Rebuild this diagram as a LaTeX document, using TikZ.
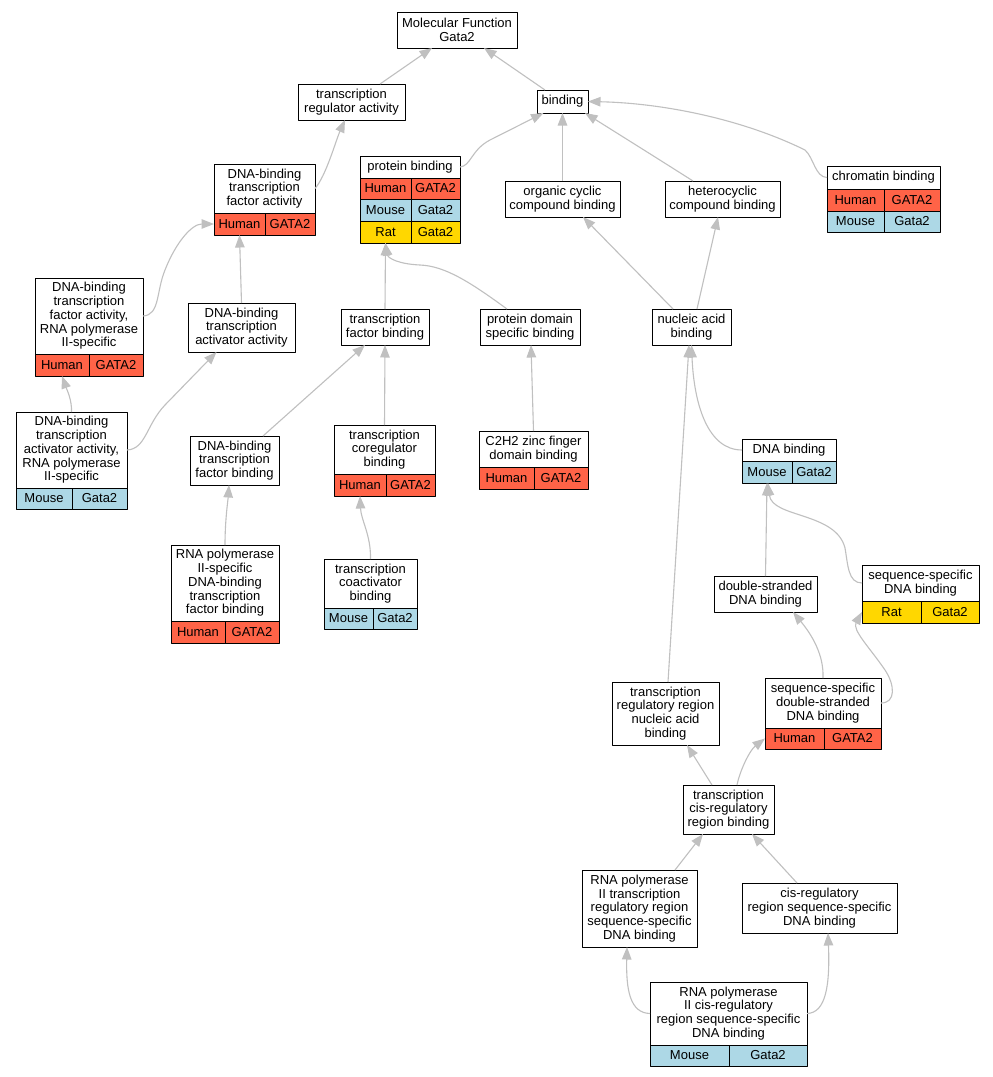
\documentclass[tikz,border=0pt]{standalone}
\usepackage{fontspec}
\setmainfont{Liberation Sans}
\usetikzlibrary{arrows.meta}
\definecolor{human}{HTML}{FF6347}
\definecolor{mouse}{HTML}{ADD8E6}
\definecolor{rat}{HTML}{FFD700}
\definecolor{linkgrey}{HTML}{C0C0C0}
% box of a term: name, x1, y1, x2, y2, text
\newcommand{\term}[6]{\node[term, minimum width={#4-#2}, minimum height={#5-#3}] (#1) at ({(#2+#4)/2},{(#3+#5)/2}) {#6};}
% one species row: name, x1, xm, x2, y1, y2, colour, species, gene
\newcommand{\orthorow}[9]{%
  \node[cell, fill=#7, minimum width={#3-#2}, minimum height={#6-#5}] (#1) at ({(#2+#3)/2},{(#5+#6)/2}) {#8};
  \node[cell, fill=#7, minimum width={#4-#3}, minimum height={#6-#5}] (#1g) at ({(#3+#4)/2},{(#5+#6)/2}) {#9};}
\begin{document}
\begin{tikzpicture}[x=1pt, y=-1pt, font=\fontsize{13}{13.8}\selectfont, line join=round,
	term/.style={draw=black, fill=white, line width=1pt, inner sep=0pt, outer sep=0pt, align=center},
	cell/.style={draw=black, line width=1pt, inner sep=0pt, outer sep=0pt},
	link/.style={draw=linkgrey, line width=1.1pt, -{Triangle[length=12.5pt, width=9.5pt]}}]
	\useasboundingbox[fill=white] (0,0) rectangle (993,1077);
	% terms
	\term{mf}{397}{12}{517}{48}{Molecular Function\\Gata2}
	\term{tra}{298}{84}{405}{120}{transcription\\regulator activity}
	\term{bind}{537}{90}{588}{113}{binding}
	\term{dbtfa}{214}{164}{315}{213}{DNA-binding\\transcription\\factor activity}
	\orthorow{dbtfah}{214}{265}{315}{213}{235}{human}{Human}{GATA2}
	\term{pb}{360}{156}{460}{178}{protein binding}
	\orthorow{pbh}{360}{411}{460}{178}{199}{human}{Human}{GATA2}
	\orthorow{pbm}{360}{411}{460}{199}{221}{mouse}{Mouse}{Gata2}
	\orthorow{pbr}{360}{411}{460}{221}{243}{rat}{Rat}{Gata2}
	\term{occb}{505}{181}{620}{217}{organic cyclic\\compound binding}
	\term{hccb}{665}{181}{780}{217}{heterocyclic\\compound binding}
	\term{chb}{827}{166}{940}{189}{chromatin binding}
	\orthorow{chbh}{827}{884}{940}{189}{211}{human}{Human}{GATA2}
	\orthorow{chbm}{827}{884}{940}{211}{232}{mouse}{Mouse}{Gata2}
	\term{dbtfa2}{35}{278}{143}{354}{DNA-binding\\transcription\\factor activity,\\RNA polymerase\\II-specific}
	\orthorow{dbtfa2h}{35}{89}{143}{354}{376}{human}{Human}{GATA2}
	\term{dbtaa}{188}{303}{295}{352}{DNA-binding\\transcription\\activator activity}
	\term{tfb}{341}{309}{429}{345}{transcription\\factor binding}
	\term{pdsb}{480}{309}{580}{345}{protein domain\\specific binding}
	\term{nab}{652}{309}{731}{345}{nucleic acid\\binding}
	\term{dbtaa2}{16}{412}{127}{488}{DNA-binding\\transcription\\activator activity,\\RNA polymerase\\II-specific}
	\orthorow{dbtaa2m}{16}{72}{127}{488}{509}{mouse}{Mouse}{Gata2}
	\term{dbtfb}{190}{436}{279}{485}{DNA-binding\\transcription\\factor binding}
	\term{tcb}{334}{425}{435}{474}{transcription\\coregulator\\binding}
	\orthorow{tcbh}{334}{386}{435}{474}{496}{human}{Human}{GATA2}
	\term{c2h2}{479}{431}{588}{467}{C2H2 zinc finger\\domain binding}
	\orthorow{c2h2h}{479}{534}{588}{467}{489}{human}{Human}{GATA2}
	\term{dnab}{742}{439}{836}{461}{DNA binding}
	\orthorow{dnabm}{742}{792}{836}{461}{483}{mouse}{Mouse}{Gata2}
	\term{p2dbtfb}{171}{545}{279}{621}{RNA polymerase\\II-specific\\DNA-binding\\transcription\\factor binding}
	\orthorow{p2dbtfbh}{171}{225}{279}{621}{643}{human}{Human}{GATA2}
	\term{tcab}{324}{559}{417}{608}{transcription\\coactivator\\binding}
	\orthorow{tcabm}{324}{373}{417}{608}{629}{mouse}{Mouse}{Gata2}
	\term{dsdb}{714}{576}{817}{612}{double-stranded\\DNA binding}
	\term{ssdb}{862}{565}{979}{601}{sequence-specific\\DNA binding}
	\orthorow{ssdbr}{862}{921}{979}{601}{623}{rat}{Rat}{Gata2}
	\term{trrnab}{612}{682}{719}{745}{transcription\\regulatory region\\nucleic acid\\binding}
	\term{ssdsdb}{765}{678}{881}{728}{sequence-specific\\double-stranded\\DNA binding}
	\orthorow{ssdsdbh}{765}{824}{881}{728}{749}{human}{Human}{GATA2}
	\term{tcrb}{683}{785}{774}{834}{transcription\\cis-regulatory\\region binding}
	\term{p2trr}{582}{870}{697}{947}{RNA polymerase\\II transcription\\regulatory region\\sequence-specific\\DNA binding}
	\term{crss}{742}{883}{897}{933}{cis-regulatory\\region sequence-specific\\DNA binding}
	\term{p2cis}{650}{982}{807}{1045}{RNA polymerase\\II cis-regulatory\\region sequence-specific\\DNA binding}
	\orthorow{p2cism}{650}{729}{807}{1045}{1066}{mouse}{Mouse}{Gata2}
	% is_a links, child to parent
	\draw[link] ([xshift=28.5pt]tra.north) -- ([xshift=-25pt]mf.south);
	\draw[link] ([xshift=-17.5pt]bind.north) -- ([xshift=27pt]mf.south);
	\draw[link] (dbtfa.east) .. controls (326,176) and (336,140) .. ([xshift=-6.5pt]tra.south);
	\draw[link] (pb.east) .. controls (471,166) and (471,150) .. (490,140) -- ([xshift=-19pt]bind.south);
	\draw[link] (occb.north) -- (bind.south);
	\draw[link] ([xshift=-29.5pt]hccb.north) .. controls (660,160) and (620,135) .. ([xshift=22.5pt]bind.south);
	\draw[link] (chb.west) .. controls (815,177) and (814,158) .. (805,150) .. controls (740,118) and (660,103) .. (bind.east);
	\draw[link] (dbtfa2.east) .. controls (160,315) and (156,292) .. (165,270) .. controls (176,242) and (192,224) .. (dbtfah.west);
	\draw[link] (dbtaa.north) -- (dbtfah.south);
	\draw[link] (tfb.north) -- (pbr.south);
	\draw[link] ([xshift=-23pt]pdsb.north) .. controls (470,282) and (445,266) .. (420,265) .. controls (398,264) and (388,258) .. (pbr.south);
	\draw[link] (dbtaa2.east) .. controls (146,449) and (146,425) .. (165,405) -- ([xshift=-25pt]dbtaa.south);
	\draw[link] (dbtaa2.north) .. controls (72,400) and (67,390) .. (dbtfa2h.south);
	\draw[link] ([xshift=28.5pt]dbtfb.north) -- ([xshift=-20pt]tfb.south);
	\draw[link] (tcb.north) -- (tfb.south);
	\draw[link] (c2h2.north) -- ([xshift=1pt]pdsb.south);
	\draw[link] ([xshift=-18.5pt]nab.north) -- ([xshift=20.5pt]occb.south);
	\draw[link] ([xshift=5.5pt]nab.north) -- ([xshift=-4.5pt]hccb.south);
	\draw[link] (p2dbtfb.north) .. controls (225,520) and (228,500) .. ([xshift=-5.5pt]dbtfb.south);
	\draw[link] (tcab.north) .. controls (371,535) and (361,520) .. (tcbh.south);
	\draw[link] (dnab.west) .. controls (708,450) and (694,405) .. (nab.south);
	\draw[link] ([xshift=2.5pt]trrnab.north) -- ([xshift=-2.5pt]nab.south);
	\draw[link] (dsdb.north) -- (dnabm.south);
	\draw[link] (ssdb.west) .. controls (848,583) and (848,565) .. (845,548) .. controls (836,512) and (772,518) .. ([xshift=1pt]dnabm.south);
	\draw[link] (ssdsdb.north) .. controls (824,655) and (812,635) .. ([xshift=27.5pt]dsdb.south);
	\draw[link] (ssdsdb.east) .. controls (896,703) and (895,685) .. (885,670) .. controls (870,648) and (852,630) .. (ssdbr.west);
	\draw[link] ([xshift=-16.5pt]tcrb.north) -- ([xshift=21.5pt]trrnab.south);
	\draw[link] ([xshift=8.5pt]tcrb.north) .. controls (740,770) and (750,750) .. (ssdsdbh.west);
	\draw[link] ([xshift=35.5pt]p2trr.north) -- ([xshift=-25.5pt]tcrb.south);
	\draw[link] ([xshift=-22.5pt]crss.north) -- ([xshift=23.5pt]tcrb.south);
	\draw[link] (p2cis.west) .. controls (630,1013) and (626,990) .. ([xshift=-12.5pt]p2trr.south);
	\draw[link] (p2cis.east) .. controls (826,1013) and (830,985) .. ([xshift=8.5pt]crss.south);
\end{tikzpicture}
\end{document}
